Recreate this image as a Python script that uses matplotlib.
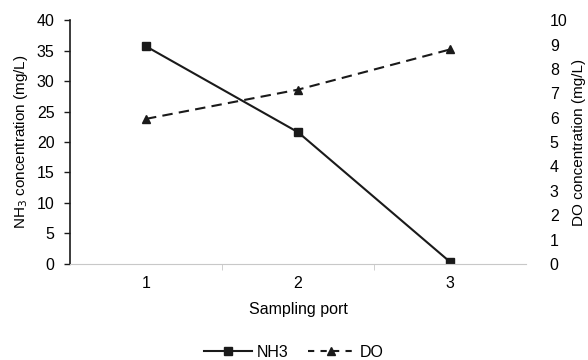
import numpy as np
import matplotlib.pyplot as plt
from matplotlib.lines import Line2D

plt.rcParams['font.family'] = ['Liberation Sans', 'DejaVu Sans']
plt.rcParams['font.size'] = 11.5

# Data
ports = ['1', '2', '3']
nh3 = [35.7, 21.6, 0.3]
do = [5.95, 7.15, 8.8]

fig = plt.figure(figsize=(5.88, 3.6), dpi=100)
ax = fig.add_axes([0.119, 0.267, 0.776, 0.677])
x = np.arange(len(ports))

ax.plot(x, nh3, color='#1a1a1a', lw=1.5, marker='s', ms=6, label='NH3')
ax.set_xlim(-0.5, 2.5)
ax.set_ylim(0, 40)
ax.set_yticks(np.arange(0, 41, 5))
ax.set_xticks(x)
ax.set_xticklabels(ports)
ax.tick_params(axis='x', length=0, pad=9)
ax.set_xticks([0.5, 1.5], minor=True)
ax.tick_params(axis='x', which='minor', length=4, color='#c8c8c8', direction='out')
ax.tick_params(axis='y', length=4, width=1, color='#1a1a1a', pad=7)
ax.spines['top'].set_visible(False)
ax.spines['right'].set_visible(False)
ax.spines['bottom'].set_color('#c8c8c8')
ax.spines['left'].set_color('#1a1a1a')
ax.spines['left'].set_linewidth(1.2)
ax.set_xlabel('Sampling port', labelpad=8)
ax.set_ylabel('NH$_3$ concentration (mg/L)', labelpad=5, fontsize=11)

ax2 = ax.twinx()
ax2.plot(x, do, color='#1a1a1a', lw=1.5, ls=(0, (5, 3)), marker='^', ms=6, label='DO')
ax2.set_ylim(0, 10)
ax2.set_yticks(np.arange(0, 11, 1))
ax2.tick_params(axis='y', length=0, pad=17)
for s in ['top', 'right', 'left', 'bottom']:
    ax2.spines[s].set_visible(False)
ax2.set_ylabel('DO concentration (mg/L)', labelpad=3, fontsize=11)

handles = [Line2D([], [], color='#1a1a1a', lw=1.5, marker='s', ms=6),
           Line2D([], [], color='#1a1a1a', lw=1.5, ls=(0, (3, 3)), marker='^', ms=6)]
fig.legend(handles, ['NH3', 'DO'], loc='center', bbox_to_anchor=(0.5, 0.022),
           ncol=2, frameon=False, handlelength=3, columnspacing=1.2, handletextpad=0.3)

fig.savefig('out.png', dpi=100)
